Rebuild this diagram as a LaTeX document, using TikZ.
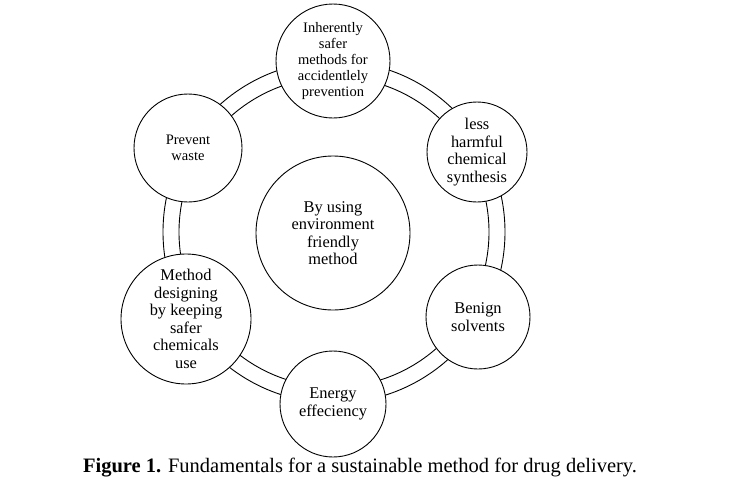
\documentclass[tikz,border=0pt]{standalone}
\usepackage{fontspec}
\setmainfont{Liberation Serif}
\tikzset{
  bub/.style={circle, draw, line width=0.9pt, fill=white, align=center, inner sep=0pt},
  smalltxt/.style={font=\fontsize{14.5}{16}\selectfont},
  bigtxt/.style={font=\fontsize{16.4}{17.5}\selectfont},
  ringline/.style={line width=0.9pt}
}
\begin{document}
\begin{tikzpicture}[x=1pt,y=-1pt]
\useasboundingbox (0,0) rectangle (740,488);
\coordinate (rc) at (334,232);
\draw[ringline] (rc) circle (171pt);
\draw[ringline] (rc) circle (155pt);
\node[bub,smalltxt,minimum size=114pt] (top) at (333,61) {Inherently\\safer\\methods for\\accidentlely\\prevention};
\node[bub,bigtxt,minimum size=100pt] (less) at (477,152) {less\\harmful\\chemical\\synthesis};
\node[bub,bigtxt,minimum size=104pt] (benign) at (478,317) {Benign\\solvents};
\node[bub,bigtxt,minimum size=106pt] (energy) at (333,404) {Energy\\effeciency};
\node[bub,bigtxt,minimum size=130pt] (method) at (186,319) {Method\\designing\\by keeping\\safer\\chemicals\\use};
\node[bub,smalltxt,minimum size=108pt] (prevent) at (188,148) {Prevent\\waste};
\node[bub,bigtxt,minimum size=154pt] (center) at (333,233) {By using\\environment\\friendly\\method};
\node[font=\fontsize{20.5}{24}\selectfont, anchor=base] (cap) at (360,472) {\textbf{Figure 1.} Fundamentals for a sustainable method for drug delivery.};
\end{tikzpicture}
\end{document}
